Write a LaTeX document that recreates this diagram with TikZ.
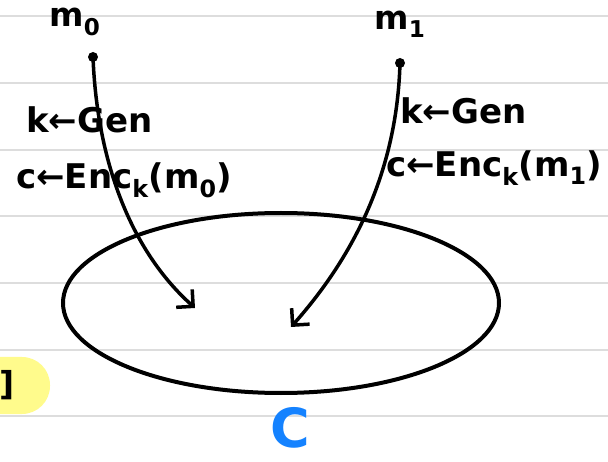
\documentclass[tikz,border=0pt]{standalone}
\usepackage{fontspec}
\setmainfont{DejaVu Sans}
\usepackage{tikz}
\usetikzlibrary{arrows.meta,positioning,shapes.geometric}

\definecolor{ruleGray}{RGB}{221,221,221}
\definecolor{hiYellow}{RGB}{255,251,140}
\definecolor{penBlue}{RGB}{20,130,255}

\tikzset{
  ruling/.style={ruleGray, line width=2pt},
  pen/.style={line width=3.5pt, line cap=round, line join=round},
  msg/.style={font=\fontsize{33}{36}\selectfont\bfseries, inner sep=0pt},
  note/.style={font=\fontsize{34}{38}\selectfont\bfseries, inner sep=0pt, anchor=west},
  enc/.style={pen, -{Straight Barb[length=12pt,width=24pt,line width=3.5pt]}},
}

\begin{document}
\begin{tikzpicture}[x=1pt,y=-1pt]
\useasboundingbox (0,0) rectangle (608,462);
\foreach \y in {16,83,150,216,283,350,416}
  \draw[ruling] (0,\y) -- (608,\y);

% highlighted bracket
\fill[hiYellow, rounded corners=28pt] (-40,357) rectangle (50,414);
\node[msg, anchor=east] (bracket) at (15,385) {]};

% ciphertext space
\node[draw, ellipse, line width=4pt, minimum width=436pt, minimum height=180pt] (cspace) at (281,303) {};
\node[font=\fontsize{54}{58}\selectfont\bfseries, penBlue, inner sep=0pt] (clabel) at (290,428) {C};

% messages
\node[msg] (m0) at (75,22) {m\textsubscript{0}};
\node[msg] (m1) at (400,24) {m\textsubscript{1}};
\coordinate (m0dot) at (93,57);
\coordinate (m1dot) at (400,63);
\fill (m0dot) circle (5);
\fill (m1dot) circle (5);

\coordinate (c0) at (195,308);
\coordinate (c1) at (291,327);
\draw[enc] (m0dot) .. controls (97,160) and (130,250) .. (c0);
\draw[enc] (m1dot) .. controls (397,170) and (355,255) .. (c1);

\node[note] (gen0) at (26,120) {k←Gen};
\node[note] (enc0) at (16,180) {c←Enc\textsubscript{k}(m\textsubscript{0})};
\node[note] (gen1) at (400,111) {k←Gen};
\node[note] (enc1) at (386,168) {c←Enc\textsubscript{k}(m\textsubscript{1})};

\end{tikzpicture}
\end{document}
